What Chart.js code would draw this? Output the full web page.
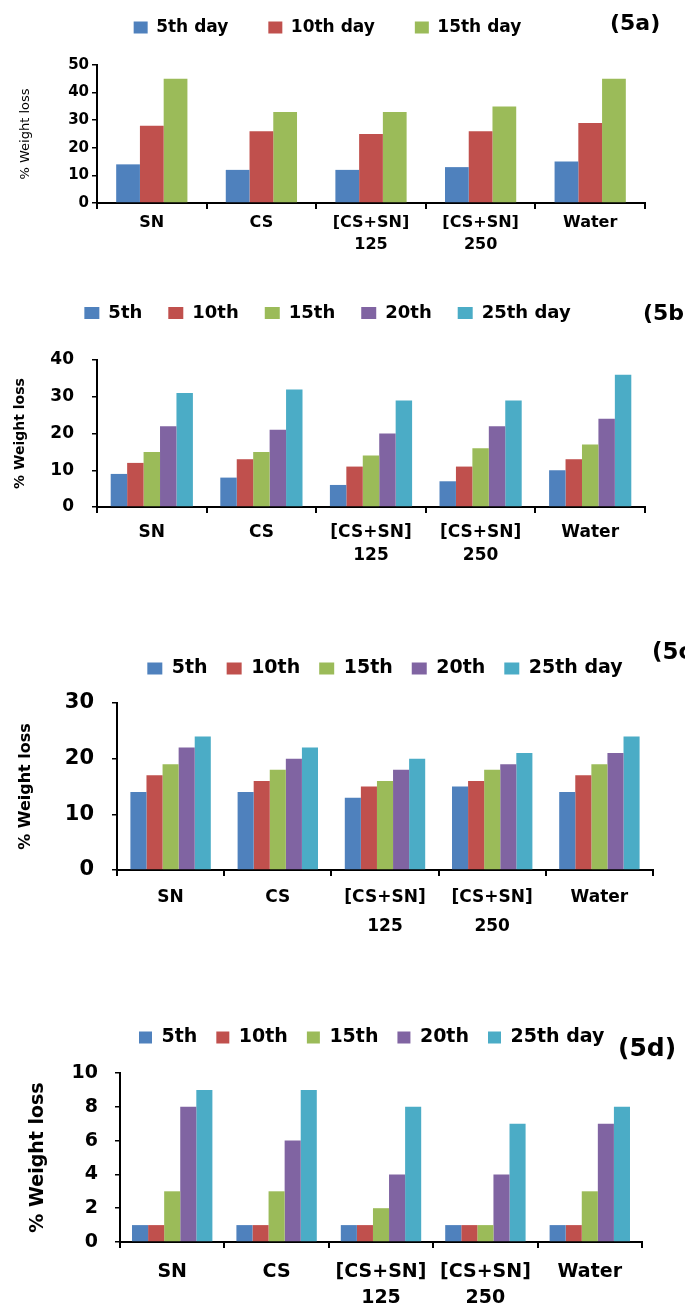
<!DOCTYPE html>
<html>
<head>
<meta charset="utf-8">
<title>% Weight loss</title>
<script src="https://cdn.jsdelivr.net/npm/chart.js@4.4.1/dist/chart.umd.min.js"></script>
<style>
    html, body { margin: 0; padding: 0; background: #fff; overflow: hidden; }
    body { position: relative; width: 685px; height: 1306px; }
    .panel { position: absolute; left: 0; width: 685px; }
    .tag { position: absolute; font-family: "DejaVu Sans"; font-weight: bold; line-height: 1; white-space: nowrap; color: #000; }
</style>
</head>
<body>
<div class="panel" style="top:-21px;height:284px"><canvas id="chartA"></canvas></div>
<div class="panel" style="top:278px;height:291px"><canvas id="chartB"></canvas></div>
<div class="panel" style="top:640px;height:310px"><canvas id="chartC"></canvas></div>
<div class="panel" style="top:1009px;height:297px"><canvas id="chartD"></canvas></div>

<div class="tag" style="left:610px;top:12px;font-size:22px">(5a)</div>
<div class="tag" style="left:643px;top:302px;font-size:22px">(5b)</div>
<div class="tag" style="left:652px;top:640px;font-size:23px">(5c)</div>
<div class="tag" style="left:618px;top:1035px;font-size:25px">(5d)</div>

<script>
document.addEventListener("DOMContentLoaded", () => {
    // Categories and legend labels
    const categories = ["SN", "CS", ["[CS+SN]", "125"], ["[CS+SN]", "250"], "Water"];
    const daysA = ["5th day", "10th day", "15th day"];
    const days = ["5th", "10th", "15th", "20th", "25th day"];
    const colors = ["#4F81BD", "#C0504D", "#9BBB59", "#8064A2", "#4BACC6"];

    // (5a) % weight loss
    const a5 = [14, 12, 12, 13, 15];
    const a10 = [28, 26, 25, 26, 29];
    const a15 = [45, 33, 33, 35, 45];

    // (5b)
    const b5 = [9, 8, 6, 7, 10];
    const b10 = [12, 13, 11, 11, 13];
    const b15 = [15, 15, 14, 16, 17];
    const b20 = [22, 21, 20, 22, 24];
    const b25 = [31, 32, 29, 29, 36];

    // (5c)
    const c5 = [14, 14, 13, 15, 14];
    const c10 = [17, 16, 15, 16, 17];
    const c15 = [19, 18, 16, 18, 19];
    const c20 = [22, 20, 18, 19, 21];
    const c25 = [24, 22, 20, 21, 24];

    // (5d)
    const d5 = [1, 1, 1, 1, 1];
    const d10 = [1, 1, 1, 1, 1];
    const d15 = [3, 3, 2, 1, 3];
    const d20 = [8, 6, 4, 4, 7];
    const d25 = [9, 9, 8, 7, 8];

    Chart.defaults.font.family = "'DejaVu Sans', sans-serif";
    Chart.defaults.color = "#000";

    // adds some empty room under the legend
    function legendGap(px) {
        return {
            id: "legendGap",
            beforeInit(chart) {
                const fit = chart.legend.fit;
                chart.legend.fit = function () {
                    fit.call(this);
                    this.height += px;
                };
            }
        };
    }

    function drawPanel(canvasId, dayLabels, series, s) {
        const datasets = series.map((data, i) => ({
            label: dayLabels[i],
            data: data,
            backgroundColor: colors[i],
            borderWidth: 0,
            categoryPercentage: s.groupWidth,
            barPercentage: 1
        }));

        return new Chart(document.getElementById(canvasId), {
            type: "bar",
            data: { labels: categories, datasets: datasets },
            options: {
                responsive: true,
                maintainAspectRatio: false,
                animation: false,
                layout: { padding: { left: s.padLeft, right: s.padRight, top: 0, bottom: 0 } },
                plugins: {
                    tooltip: { enabled: false },
                    legend: {
                        position: "top",
                        align: s.legendAlign,
                        fullSize: s.legendFull,
                        labels: {
                            boxWidth: s.box[0],
                            boxHeight: s.box[1],
                            padding: s.legendPad,
                            color: "#000",
                            font: { size: s.legendFont, weight: "bold" }
                        }
                    }
                },
                scales: {
                    x: {
                        offset: true,
                        grid: { drawOnChartArea: false, drawTicks: true, tickLength: 6, color: "#000", lineWidth: 2, offset: true },
                        border: { color: "#000", width: 2 },
                        ticks: {
                            color: "#000",
                            maxRotation: 0,
                            autoSkip: false,
                            padding: s.xPad,
                            font: { size: s.xFont, weight: "bold", lineHeight: s.xLine }
                        },
                        afterFit(scale) { scale.height = s.xHeight; }
                    },
                    y: {
                        min: 0,
                        max: s.yMax,
                        grid: { drawOnChartArea: false, drawTicks: true, tickLength: 5, color: "#000", lineWidth: 1.5 },
                        border: { color: "#000", width: 2 },
                        ticks: { stepSize: s.yStep, color: "#000", padding: s.yPad, font: { size: s.yFont, weight: "bold" } },
                        title: {
                            display: true,
                            text: "% Weight loss",
                            color: "#000",
                            padding: { top: s.titlePad, bottom: 0 },
                            font: { size: s.titleFont, weight: s.titleWeight }
                        },
                        afterFit(scale) { scale.width = s.yWidth; }
                    }
                }
            },
            plugins: [legendGap(s.gap)]
        });
    }

    drawPanel("chartA", daysA, [a5, a10, a15], {
        groupWidth: 0.65, padLeft: 10, padRight: 40,
        legendAlign: "center", legendFull: true, box: [14, 12], legendPad: 40, legendFont: 17, gap: 19,
        xHeight: 60, xFont: 16, xLine: 1.35, xPad: 3,
        yMax: 50, yStep: 10, yWidth: 87, yFont: 15, yPad: 3,
        titleFont: 13, titleWeight: "normal", titlePad: 8
    });

    drawPanel("chartB", days, [b5, b10, b15, b20, b25], {
        groupWidth: 0.75, padLeft: 10, padRight: 40,
        legendAlign: "center", legendFull: true, box: [15, 12], legendPad: 26, legendFont: 18, gap: 28,
        xHeight: 62, xFont: 17, xLine: 1.3, xPad: 9,
        yMax: 40, yStep: 10, yWidth: 87, yFont: 17, yPad: 18,
        titleFont: 14, titleWeight: "bold", titlePad: 2
    });

    drawPanel("chartC", days, [c5, c10, c15, c20, c25], {
        groupWidth: 0.75, padLeft: 0, padRight: 32,
        legendAlign: "center", legendFull: false, box: [15, 12], legendPad: 19, legendFont: 19, gap: 15,
        xHeight: 80, xFont: 17, xLine: 1.7, xPad: 7,
        yMax: 30, yStep: 10, yWidth: 117, yFont: 21, yPad: 18,
        titleFont: 16, titleWeight: "bold", titlePad: 16
    });

    drawPanel("chartD", days, [d5, d10, d15, d20, d25], {
        groupWidth: 0.77, padLeft: 0, padRight: 43,
        legendAlign: "start", legendFull: false, box: [13, 12], legendPad: 19, legendFont: 19, gap: 16,
        xHeight: 64, xFont: 19, xLine: 1.37, xPad: 11,
        yMax: 10, yStep: 2, yWidth: 120, yFont: 19, yPad: 17,
        titleFont: 19, titleWeight: "bold", titlePad: 27
    });
});
</script>
</body>
</html>
